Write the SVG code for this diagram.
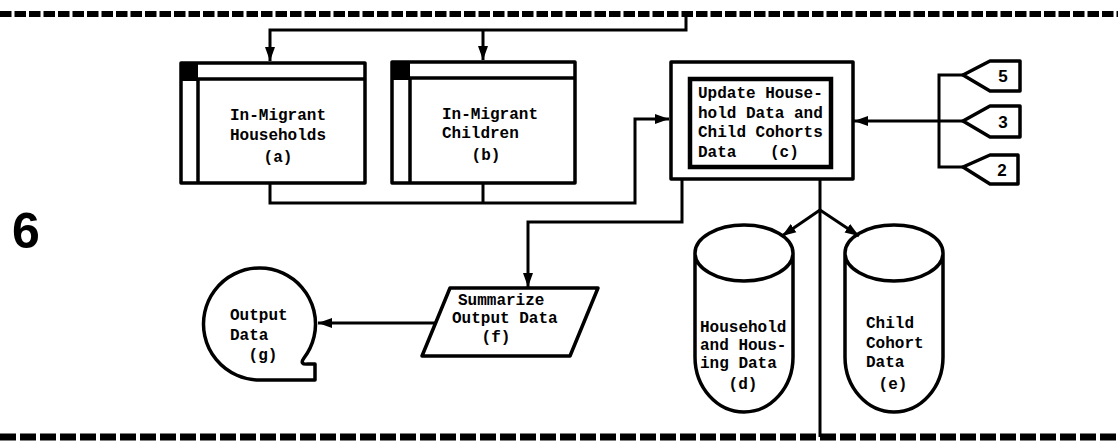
<svg xmlns="http://www.w3.org/2000/svg" width="1118" height="442" viewBox="0 0 1118 442">
<defs>
<style>
.sh{fill:none;stroke:#000;stroke-width:3.5;stroke-linejoin:round}
.cn{fill:none;stroke:#000;stroke-width:3}
.t{font-family:"Liberation Mono","DejaVu Sans Mono",monospace;font-size:16px;font-weight:bold;fill:#000}
.tc{text-anchor:middle}
.op{font-family:"Liberation Sans",Arial,sans-serif;font-size:17px;font-weight:bold;fill:#000;text-anchor:middle}
</style>
<marker id="ah" markerWidth="14" markerHeight="12" refX="14" refY="6" orient="auto" markerUnits="userSpaceOnUse"><path d="M0,1 L14,6 L0,11 z" fill="#000"/></marker>
</defs>
<rect width="1118" height="442" fill="#fff"/>
<line x1="0" y1="14" x2="1118" y2="14" stroke="#000" stroke-width="6" stroke-dasharray="11.5 3"/>
<line x1="0" y1="437" x2="1118" y2="437" stroke="#000" stroke-width="7" stroke-dasharray="16 4"/>
<text x="12" y="248" font-family="'Liberation Sans',Arial,sans-serif" font-size="50" font-weight="bold">6</text>
<g id="connectors">
<path class="cn" d="M686,14 V30 H270 V61" marker-end="url(#ah)"/>
<path class="cn" d="M483,30 V60" marker-end="url(#ah)"/>
<path class="cn" d="M270,183 V203 H635 V119 H669" marker-end="url(#ah)"/>
<path class="cn" d="M483,183 V203"/>
<path class="cn" d="M963,75 H939 V167 H963"/>
<path class="cn" d="M963,121 H854" marker-end="url(#ah)"/>
<path class="cn" d="M682,179 V222 H528 V287" marker-end="url(#ah)"/>
<path class="cn" d="M820,179 V437" stroke-width="2.5"/>
<path class="cn" d="M820,210 L782,236" marker-end="url(#ah)"/>
<path class="cn" d="M820,210 L859,236" marker-end="url(#ah)"/>
<path class="cn" d="M436,323 H318" marker-end="url(#ah)"/>
</g>
<g id="node-a">
<rect class="sh" x="181" y="63" width="184" height="120"/>
<path class="sh" d="M198,79 H365 M198,79 V183"/>
<rect x="181" y="63" width="17" height="18" fill="#000"/>
<text class="t" x="230" y="120">In-Migrant</text>
<text class="t" x="230" y="140">Households</text>
<text class="t tc" x="278" y="162">(a)</text>
</g>
<g id="node-b">
<rect class="sh" x="392" y="62" width="183" height="121"/>
<path class="sh" d="M410,78 H575 M410,78 V183"/>
<rect x="392" y="62" width="18" height="18" fill="#000"/>
<text class="t" x="442" y="119">In-Migrant</text>
<text class="t" x="442" y="138">Children</text>
<text class="t tc" x="486" y="160">(b)</text>
</g>
<g id="node-c">
<rect class="sh" x="671" y="62" width="182" height="117"/>
<rect x="690" y="79" width="141" height="88" fill="none" stroke="#000" stroke-width="4.5"/>
<text class="t" x="698" y="98">Update House-</text>
<text class="t" x="698" y="117.5">hold Data and</text>
<text class="t" x="698" y="137">Child Cohorts</text>
<text class="t" x="698" y="156.5">Data<tspan x="770">(c)</tspan></text>
</g>
<g id="node-d">
<path class="sh" d="M695,253 V357 A49,55 0 0 0 793,357 V253 A49,28 0 0 0 695,253 A49,28 0 0 0 793,253"/>
<text class="t" x="700" y="332">Household</text>
<text class="t" x="700" y="350">and Hous-</text>
<text class="t" x="700" y="368">ing Data</text>
<text class="t tc" x="743" y="389">(d)</text>
</g>
<g id="node-e">
<path class="sh" d="M845,253 V357 A49,55 0 0 0 943,357 V253 A49,28 0 0 0 845,253 A49,28 0 0 0 943,253"/>
<text class="t" x="866" y="328">Child</text>
<text class="t" x="866" y="348">Cohort</text>
<text class="t" x="866" y="367">Data</text>
<text class="t tc" x="893" y="389">(e)</text>
</g>
<g id="node-f">
<path class="sh" d="M450,288 H598 L570,356 H422 Z"/>
<text class="t" x="458" y="305">Summarize</text>
<text class="t" x="452" y="323">Output Data</text>
<text class="t tc" x="496" y="342">(f)</text>
</g>
<g id="node-g">
<path class="sh" d="M260,380 A56,56 0 1 1 304,358 Q299,365 308,364 H315 V380 Z"/>
<text class="t" x="230" y="320">Output</text>
<text class="t" x="230" y="340">Data</text>
<text class="t tc" x="263" y="360">(g)</text>
</g>
<g id="offpage-5">
<path class="sh" d="M963,75 L990,61 H1020 V91 H990 Z"/>
<text class="op" x="1003" y="82">5</text>
</g>
<g id="offpage-3">
<path class="sh" d="M963,121 L990,106 H1020 V137 H990 Z"/>
<text class="op" x="1003" y="128">3</text>
</g>
<g id="offpage-2">
<path class="sh" d="M963,167 L990,155 H1018 V184 H990 Z"/>
<text class="op" x="1002" y="176">2</text>
</g>
</svg>
